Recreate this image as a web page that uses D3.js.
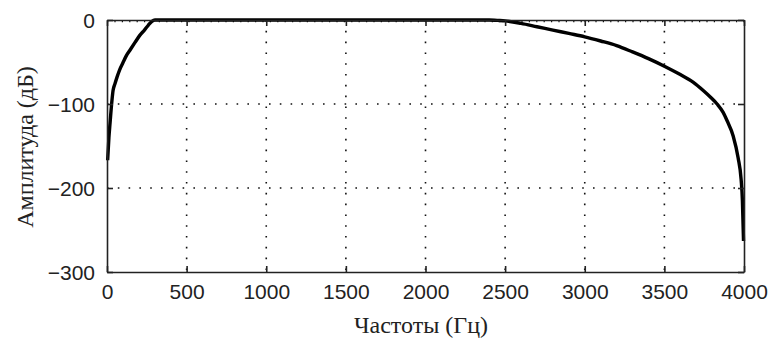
<!DOCTYPE html>
<html>
<head>
<meta charset="utf-8">
<script src="https://cdn.jsdelivr.net/npm/d3@7"></script>
<style>
  body { margin: 0; background: #fff; }
  svg { display: block; }
</style>
</head>
<body>
<script>
// frequency response
var freqHz = [4, 12, 19, 31, 38, 50, 63, 80, 100, 120, 144, 175, 207, 235, 260, 280, 301,
  800, 1500, 2000, 2400, 2450, 2500, 2600, 2700, 2800, 2900, 3000, 3100, 3200, 3300, 3400,
  3500, 3600, 3680, 3744, 3790, 3831, 3869, 3894, 3932, 3963, 3982, 3990, 3997];
var ampDb = [-167, -140, -123, -96, -84, -76, -68, -59, -51, -43, -36, -27, -18, -12, -6, -2, 0,
  0, 0, 0, 0, -0.5, -1, -4, -8, -12, -16, -20, -25, -30.5, -38, -46,
  -55, -65, -74, -84, -92, -100, -110, -120, -138, -164, -190, -215, -263];
var xTicks = [0, 500, 1000, 1500, 2000, 2500, 3000, 3500, 4000];
var yTicks = [-300, -200, -100, 0];
var xLabel = 'Частоты (Гц)';
var yLabel = 'Амплитуда (дБ)';

var width = 768;
var height = 338;
//plot box (note: "top" is taken by window, so use m*)
var mLeft = 107, mRight = 744, mTop = 20, mBottom = 272;

var svg = d3.select('body').append('svg')
  .attr('width', width)
  .attr('height', height);

var x = d3.scaleLinear().domain([0, 4000]).range([mLeft, mRight]);
var y = d3.scaleLinear().domain([-300, 0]).range([mBottom, mTop]);

//dotted grid
svg.append('g').selectAll('line').data(xTicks.slice(1, -1))
  .enter().append('line')
  .attr('x1', function(d){return x(d);})
  .attr('x2', function(d){return x(d);})
  .attr('y1', mTop).attr('y2', mBottom)
  .style('stroke', '#111').style('stroke-width', 1.6)
  .style('stroke-dasharray', '1.6,9.2');
svg.append('g').selectAll('line').data(yTicks.slice(1))
  .enter().append('line')
  .attr('y1', function(d){return y(d) + (d === 0 ? 1.5 : 0);})
  .attr('y2', function(d){return y(d) + (d === 0 ? 1.5 : 0);})
  .attr('x1', mLeft).attr('x2', mRight)
  .style('stroke', '#111').style('stroke-width', 1.6)
  .style('stroke-dasharray', function(d){return d === 0 ? '1.2,6.2' : '1.6,9.2';});

//the curve
var pts = freqHz.map(function(f, i){return [f, ampDb[i]];});
var line = d3.line()
  .x(function(d){return x(d[0]);})
  .y(function(d){return y(d[1]);})
  .curve(d3.curveMonotoneX);
svg.append('path')
  .datum(pts)
  .attr('d', line)
  .style('fill', 'none')
  .style('stroke', '#000')
  .style('stroke-width', 3.4)
  .style('stroke-linejoin', 'round');

//axes, ticks pointing inward on all four sides
var tick = 6;
var fmt = d3.format('d');
var axBottom = d3.axisBottom(x).tickValues(xTicks).tickFormat(fmt).tickSizeInner(-tick).tickSizeOuter(0).tickPadding(tick + 6);
var axTop = d3.axisTop(x).tickValues(xTicks).tickSizeInner(-tick).tickSizeOuter(0).tickFormat('');
var axLeft = d3.axisLeft(y).tickValues(yTicks).tickFormat(fmt).tickSizeInner(-tick).tickSizeOuter(0).tickPadding(tick + 6);
var axRight = d3.axisRight(y).tickValues(yTicks).tickSizeInner(-tick).tickSizeOuter(0).tickFormat('');

var gb = svg.append('g').attr('transform', 'translate(0,' + mBottom + ')').call(axBottom);
var gt = svg.append('g').attr('transform', 'translate(0,' + mTop + ')').call(axTop);
var gl = svg.append('g').attr('transform', 'translate(' + mLeft + ',0)').call(axLeft);
var gr = svg.append('g').attr('transform', 'translate(' + mRight + ',0)').call(axRight);

[gb, gt, gl, gr].forEach(function(g){
  g.selectAll('path').style('stroke', '#222').style('stroke-width', 1.6);
  g.selectAll('line').style('stroke', '#222').style('stroke-width', 1.6);
  g.selectAll('text')
    .style('font-family', '"Liberation Sans", Arial, sans-serif')
    .style('font-size', '21px')
    .style('fill', '#222');
});
gb.selectAll('text').attr('dy', '0.71em');
gl.selectAll('text').attr('dy', '0.35em');

//axis titles
svg.append('text')
  .attr('x', 421)
  .attr('y', 333)
  .attr('text-anchor', 'middle')
  .style('font-family', '"Liberation Serif", "Times New Roman", serif')
  .style('font-size', '24px')
  .style('fill', '#222')
  .text(xLabel);
svg.append('text')
  .attr('transform', 'translate(33,147) rotate(-90)')
  .attr('text-anchor', 'middle')
  .style('font-family', '"Liberation Serif", "Times New Roman", serif')
  .style('font-size', '24px')
  .style('fill', '#222')
  .text(yLabel);
</script>
</body>
</html>
